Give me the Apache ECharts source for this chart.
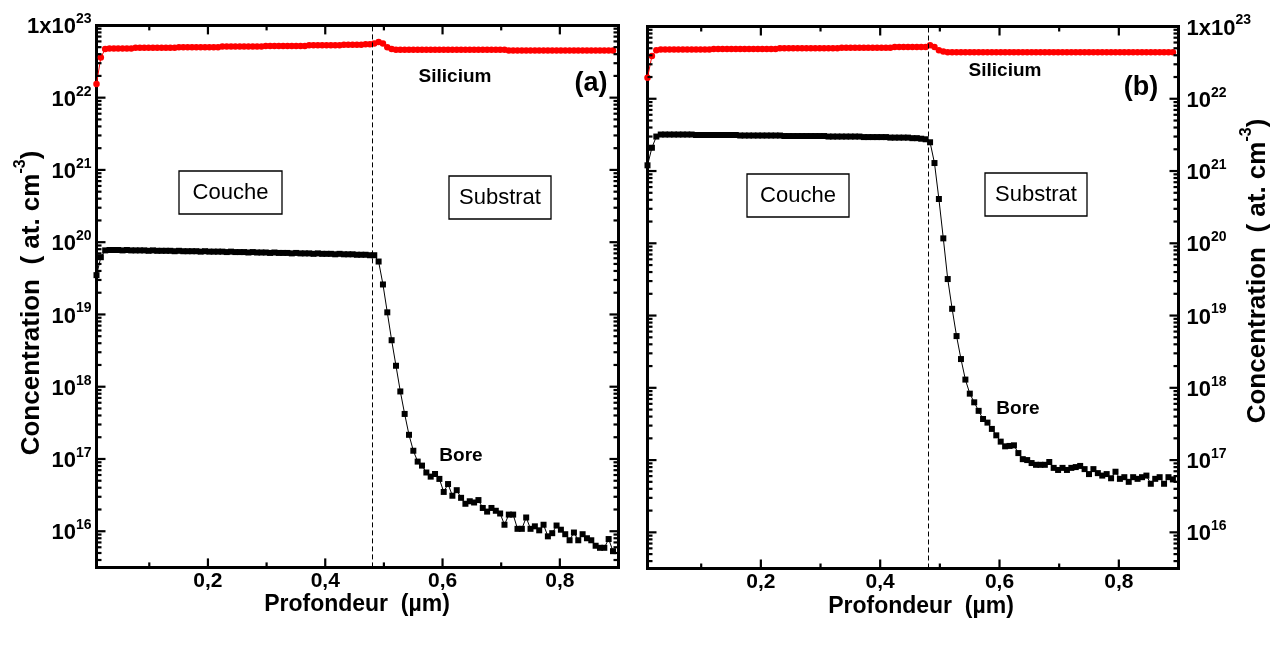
<!DOCTYPE html>
<html>
<head>
<meta charset="utf-8">
<script src="https://cdn.jsdelivr.net/npm/echarts@6/dist/echarts.min.js"></script>
<style>
  html, body { margin: 0; padding: 0; background: #fff; }
  #chart { width: 1274px; height: 651px; }
</style>
</head>
<body>
<div id="chart"></div>
<script>
// SIMS depth grid shared by both profiles (µm)
const depth = [
  0.0100, 0.0174, 0.0248, 0.0322, 0.0396, 0.0470, 0.0544, 0.0618, 0.0692, 0.0766,
  0.0840, 0.0914, 0.0988, 0.1062, 0.1136, 0.1210, 0.1284, 0.1358, 0.1432, 0.1506,
  0.1580, 0.1654, 0.1728, 0.1802, 0.1876, 0.1950, 0.2024, 0.2098, 0.2172, 0.2246,
  0.2320, 0.2394, 0.2468, 0.2542, 0.2616, 0.2690, 0.2764, 0.2838, 0.2912, 0.2986,
  0.3060, 0.3134, 0.3208, 0.3282, 0.3356, 0.3430, 0.3504, 0.3578, 0.3652, 0.3726,
  0.3800, 0.3874, 0.3948, 0.4022, 0.4096, 0.4170, 0.4244, 0.4318, 0.4392, 0.4466,
  0.4540, 0.4614, 0.4688, 0.4762, 0.4836, 0.4910, 0.4984, 0.5058, 0.5132, 0.5206,
  0.5280, 0.5354, 0.5428, 0.5502, 0.5576, 0.5650, 0.5724, 0.5798, 0.5872, 0.5946,
  0.6020, 0.6094, 0.6168, 0.6242, 0.6316, 0.6390, 0.6464, 0.6538, 0.6612, 0.6686,
  0.6760, 0.6834, 0.6908, 0.6982, 0.7056, 0.7130, 0.7204, 0.7278, 0.7352, 0.7426,
  0.7500, 0.7574, 0.7648, 0.7722, 0.7796, 0.7870, 0.7944, 0.8018, 0.8092, 0.8166,
  0.8240, 0.8314, 0.8388, 0.8462, 0.8536, 0.8610, 0.8684, 0.8758, 0.8832, 0.8906
];

// (a) silicium, in units of 1e22 at/cm3
const siliciumA = [
  1.55, 3.6, 4.7,
  4.8, 4.8, 4.8, 4.8, 4.8, 4.8,
  4.9, 4.9, 4.9, 4.9, 4.9, 4.9, 4.9, 4.9, 4.9, 4.9,
  5.0, 5.0, 5.0, 5.0, 5.0, 5.0, 5.0, 5.0, 5.0, 5.0,
  5.1, 5.1, 5.1, 5.1, 5.1, 5.1, 5.1, 5.1, 5.1, 5.1,
  5.2, 5.2, 5.2, 5.2, 5.2, 5.2, 5.2, 5.2, 5.2, 5.2,
  5.3, 5.3, 5.3, 5.3, 5.3, 5.3, 5.3, 5.3,
  5.4, 5.4, 5.4, 5.4, 5.4,
  5.5, 5.5,
  5.6, 5.9, 5.6, 5.0, 4.7,
  4.6, 4.6, 4.6, 4.6, 4.6, 4.6, 4.6, 4.6, 4.6, 4.6, 4.6, 4.6, 4.6,
  4.6, 4.6, 4.6, 4.6, 4.6, 4.6, 4.6, 4.6, 4.6, 4.6, 4.6, 4.6, 4.6,
  4.5, 4.5, 4.5, 4.5, 4.5, 4.5, 4.5, 4.5, 4.5, 4.5, 4.5, 4.5, 4.5,
  4.5, 4.5, 4.5, 4.5, 4.5, 4.5, 4.5, 4.5, 4.5, 4.5, 4.5, 4.5
];

// (a) bore, at/cm3
const boreA = [
  3.5e19, 6.2e19, 7.7e19,
  7.8e19, 7.8e19, 7.8e19, 7.7e19, 7.8e19, 7.7e19, 7.7e19, 7.7e19, 7.7e19, 7.6e19,
  7.7e19, 7.6e19, 7.6e19, 7.6e19, 7.6e19, 7.5e19, 7.6e19, 7.5e19, 7.5e19, 7.5e19,
  7.5e19, 7.4e19, 7.5e19, 7.4e19, 7.4e19, 7.4e19, 7.4e19, 7.3e19, 7.4e19, 7.3e19,
  7.3e19, 7.3e19, 7.2e19, 7.3e19, 7.2e19, 7.2e19, 7.2e19, 7.1e19, 7.2e19, 7.1e19,
  7.1e19, 7.1e19, 7.0e19, 7.1e19, 7.0e19, 7.0e19, 7.0e19, 6.9e19, 7.0e19, 6.9e19,
  6.9e19, 6.9e19, 6.8e19, 6.9e19, 6.8e19, 6.8e19, 6.8e19, 6.7e19, 6.7e19, 6.7e19,
  6.6e19, 6.6e19,
  5.4e19, 2.6e19, 1.07e19, 4.4e18, 1.95e18, 8.6e17, 4.2e17, 2.16e17, 1.3e17, 9.2e16,
  8.1e16, 6.5e16, 5.7e16, 6.2e16, 5.3e16,
  3.5e16, 4.5e16, 3.1e16, 3.7e16, 2.9e16, 2.4e16, 2.6e16, 2.5e16, 2.7e16, 2.1e16,
  1.87e16, 2.1e16, 1.92e16, 1.76e16, 1.23e16, 1.7e16, 1.7e16, 1.08e16, 1.08e16, 1.55e16,
  1.08e16, 1.17e16, 1.03e16, 1.23e16, 8.5e15, 9.4e15, 1.2e16, 1.05e16, 9.1e15, 7.5e15,
  9.6e15, 7.5e15, 9.1e15, 8.0e15, 7.5e15, 6.3e15, 5.9e15, 5.9e15, 7.8e15, 5.3e15
];

// (b) silicium, in units of 1e22 at/cm3
const siliciumB = [
  1.95, 3.9, 4.7,
  4.8, 4.8, 4.8, 4.8, 4.8, 4.8, 4.8, 4.8, 4.8, 4.8, 4.8, 4.8,
  4.9, 4.9, 4.9, 4.9, 4.9, 4.9, 4.9, 4.9, 4.9, 4.9, 4.9, 4.9, 4.9, 4.9, 4.9,
  5.0, 5.0, 5.0, 5.0, 5.0, 5.0, 5.0, 5.0, 5.0, 5.0, 5.0, 5.0, 5.0, 5.0,
  5.1, 5.1, 5.1, 5.1, 5.1, 5.1, 5.1, 5.1, 5.1, 5.1, 5.1, 5.1,
  5.2, 5.2, 5.2, 5.2, 5.2, 5.2, 5.2, 5.2,
  5.5, 5.2, 4.7, 4.5,
  4.4, 4.4, 4.4, 4.4, 4.4, 4.4, 4.4, 4.4, 4.4, 4.4, 4.4, 4.4, 4.4,
  4.4, 4.4, 4.4, 4.4, 4.4, 4.4, 4.4, 4.4, 4.4, 4.4, 4.4, 4.4, 4.4,
  4.4, 4.4, 4.4, 4.4, 4.4, 4.4, 4.4, 4.4, 4.4, 4.4, 4.4, 4.4, 4.4,
  4.4, 4.4, 4.4, 4.4, 4.4, 4.4, 4.4, 4.4, 4.4, 4.4, 4.4, 4.4, 4.4
];

// (b) bore, at/cm3
const boreB = [
  1.2e21, 2.1e21, 3.0e21,
  3.2e21, 3.2e21, 3.2e21, 3.2e21, 3.2e21, 3.2e21, 3.2e21, 3.2e21,
  3.15e21, 3.15e21, 3.15e21, 3.15e21, 3.15e21, 3.15e21, 3.15e21, 3.15e21, 3.15e21, 3.15e21,
  3.1e21, 3.1e21, 3.1e21, 3.1e21, 3.1e21, 3.1e21, 3.1e21, 3.1e21, 3.1e21, 3.1e21,
  3.05e21, 3.05e21, 3.05e21, 3.05e21, 3.05e21, 3.05e21, 3.05e21, 3.05e21, 3.05e21, 3.05e21,
  3.0e21, 3.0e21, 3.0e21, 3.0e21, 3.0e21, 3.0e21, 3.0e21, 3.0e21,
  2.95e21, 2.95e21, 2.95e21, 2.95e21, 2.95e21, 2.95e21,
  2.9e21, 2.9e21, 2.9e21, 2.9e21, 2.9e21,
  2.85e21, 2.85e21, 2.8e21, 2.75e21,
  2.5e21, 1.29e21, 4.1e20, 1.17e20, 3.2e19, 1.24e19, 5.2e18, 2.5e18,
  1.3e18, 8.3e17, 6.3e17, 4.8e17, 3.7e17, 3.3e17, 2.7e17, 2.2e17, 1.8e17, 1.55e17,
  1.57e17, 1.6e17, 1.25e17, 1.03e17, 1.0e17, 9.1e16, 8.6e16, 8.6e16, 8.6e16, 9.4e16,
  7.8e16, 7.3e16, 7.8e16, 7.3e16, 7.8e16, 8.0e16, 8.3e16, 7.5e16, 6.4e16, 7.5e16,
  6.6e16, 6.1e16, 6.4e16, 5.6e16, 6.9e16, 5.5e16, 5.8e16, 5.0e16, 5.8e16, 5.5e16,
  5.8e16, 6.1e16, 4.7e16, 5.5e16, 5.8e16, 4.7e16, 5.8e16, 5.4e16
];

// layer / substrate interface depth in each sample (µm)
const interfaceA = 0.485;
const interfaceB = 0.48;

// axis ranges and tick values
const X_MIN = 0.01, X_MAX = 0.9;
const Y_MIN = 3.16e15, Y_MAX = 1e23;
const xMajorTicks = [0.2, 0.4, 0.6, 0.8];
const xMinorTicks = [0.1, 0.3, 0.5, 0.7];
const yMajorTicks = [1e16, 1e17, 1e18, 1e19, 1e20, 1e21, 1e22];
const yMinorFactors = [2, 3, 4, 5, 6, 7, 8, 9];
const yDecades = [15, 16, 17, 18, 19, 20, 21, 22];

const FONT = '"Liberation Sans", Arial, Helvetica, sans-serif';

const yMinorTicks = [];
yDecades.forEach(function (d) {
  yMinorFactors.forEach(function (f) {
    const v = f * Math.pow(10, d);
    if (v > Y_MIN && v < Y_MAX) yMinorTicks.push(v);
  });
});

function pairs(values, unit) {
  return depth.map(function (d, i) { return [d, values[i] * unit]; });
}

function xLabel(v) {
  const t = Math.round(v * 10);
  if (Math.abs(v * 10 - t) > 1e-6 || t === 0 || t % 2 !== 0) return '';
  return (t / 10).toFixed(1).replace('.', ',');
}

function yLabel(v) {
  const e = Math.log10(v);
  const r = Math.round(e);
  if (Math.abs(e - r) > 1e-6) return '';
  if (r === 23) return '{b|1x10}{s|23}';
  return '{b|10}{s|' + r + '}';
}

const labelRich = {
  b: { fontFamily: FONT, fontWeight: 'bold', fontSize: 22, color: '#000', padding: [4, 0, 0, 0], verticalAlign: 'bottom' },
  s: { fontFamily: FONT, fontWeight: 'bold', fontSize: 14, color: '#000', verticalAlign: 'top' }
};

function tickItems() {
  const items = [];
  xMajorTicks.forEach(function (v) { items.push([v, Y_MIN, 0]); });
  xMinorTicks.forEach(function (v) { items.push([v, Y_MIN, 1]); });
  yMajorTicks.forEach(function (v) { items.push([X_MIN, v, 2]); });
  yMinorTicks.forEach(function (v) { items.push([X_MIN, v, 3]); });
  return items;
}

// inward ticks mirrored on all four sides of a panel
function renderTicks(params, api) {
  const kind = api.value(2);
  const area = params.coordSys;
  const left = area.x, right = area.x + area.width;
  const top = area.y, bottom = area.y + area.height;
  const len = (kind === 0 || kind === 2) ? 9 : 5;
  const st = { stroke: '#000', lineWidth: 2.2 };
  if (kind < 2) {
    const px = api.coord([api.value(0), Y_MIN])[0];
    return { type: 'group', children: [
      { type: 'line', shape: { x1: px, y1: bottom, x2: px, y2: bottom - len }, style: st },
      { type: 'line', shape: { x1: px, y1: top, x2: px, y2: top + len }, style: st }
    ]};
  }
  const py = api.coord([X_MIN, api.value(1)])[1];
  return { type: 'group', children: [
    { type: 'line', shape: { x1: left, y1: py, x2: left + len, y2: py }, style: st },
    { type: 'line', shape: { x1: right, y1: py, x2: right - len, y2: py }, style: st }
  ]};
}

function xAxisFor(i) {
  return {
    gridIndex: i, type: 'value', min: X_MIN, max: X_MAX,
    axisLine: { show: false }, axisTick: { show: false }, splitLine: { show: false },
    axisLabel: { margin: 3, formatter: xLabel, color: '#000', fontFamily: FONT, fontWeight: 'bold', fontSize: 21 }
  };
}

function yAxisFor(i, pos) {
  return {
    gridIndex: i, type: 'log', logBase: 10, min: Y_MIN, max: Y_MAX, position: pos,
    axisLine: { show: false }, axisTick: { show: false }, minorTick: { show: false },
    splitLine: { show: false }, minorSplitLine: { show: false },
    axisLabel: { margin: pos === 'left' ? 5 : 8, formatter: yLabel, rich: labelRich, color: '#000' }
  };
}

function panelSeries(i, si, bore, iface) {
  return [
    {
      name: 'Silicium', type: 'line', xAxisIndex: i, yAxisIndex: i,
      data: pairs(si, 1e22), symbol: 'circle', symbolSize: 6.5,
      itemStyle: { color: '#ff0000' }, lineStyle: { color: '#ff0000', width: 1 },
      clip: true, z: 3
    },
    {
      name: 'Bore', type: 'line', xAxisIndex: i, yAxisIndex: i,
      data: pairs(bore, 1), symbol: 'rect', symbolSize: 6,
      itemStyle: { color: '#000' }, lineStyle: { color: '#000', width: 1 },
      clip: true, z: 3,
      markLine: {
        silent: true, symbol: ['none', 'none'], label: { show: false },
        lineStyle: { color: '#000', width: 1, type: [5, 3] },
        data: [{ xAxis: iface }]
      }
    },
    {
      type: 'custom', xAxisIndex: i, yAxisIndex: i, data: tickItems(),
      renderItem: renderTicks, silent: true, z: 5
    }
  ];
}

function text(x, y, str, font) {
  return {
    type: 'text', x: x, y: y, silent: true,
    style: { text: str, font: font, fill: '#000', align: 'center', verticalAlign: 'middle' }
  };
}

function box(x, y, w, h) {
  return { type: 'rect', silent: true, shape: { x: x, y: y, width: w, height: h },
           style: { fill: '#fff', stroke: '#000', lineWidth: 1.3 } };
}

const titleRich = {
  t: { fontFamily: FONT, fontWeight: 'bold', fontSize: 26, fill: '#000', padding: [6, 0, 0, 0], verticalAlign: 'bottom' },
  s: { fontFamily: FONT, fontWeight: 'bold', fontSize: 16, fill: '#000', verticalAlign: 'top' }
};

function yTitle(x, y) {
  return {
    type: 'text', x: x, y: y, rotation: Math.PI / 2, silent: true,
    style: { text: '{t|Concentration  ( at. cm}{s|-3}{t|)}', rich: titleRich,
             align: 'center', verticalAlign: 'middle' }
  };
}

const BOLD19 = 'bold 19px ' + FONT;
const REG22 = '22px ' + FONT;
const TITLE = 'bold 23px ' + FONT;

const chart = echarts.init(document.getElementById('chart'), null, { renderer: 'canvas' });
chart.setOption({
  animation: false,
  backgroundColor: '#fff',
  grid: [
    { left: 96.5, top: 25.4, width: 522, height: 542, show: true, borderColor: '#000', borderWidth: 3, backgroundColor: 'transparent' },
    { left: 647.5, top: 26.5, width: 531, height: 542, show: true, borderColor: '#000', borderWidth: 3, backgroundColor: 'transparent' }
  ],
  xAxis: [xAxisFor(0), xAxisFor(1)],
  yAxis: [yAxisFor(0, 'left'), yAxisFor(1, 'right')],
  series: panelSeries(0, siliciumA, boreA, interfaceA).concat(panelSeries(1, siliciumB, boreB, interfaceB)),
  graphic: [
    // panel (a)
    box(179, 171, 103, 43), text(230.5, 192.5, 'Couche', REG22),
    box(449, 176, 102, 43), text(500, 197.5, 'Substrat', REG22),
    text(455, 77, 'Silicium', BOLD19),
    text(591, 84, '(a)', 'bold 27px ' + FONT),
    text(461, 456, 'Bore', BOLD19),
    yTitle(29, 303),
    text(357, 605, 'Profondeur  (µm)', TITLE),
    // panel (b)
    box(747, 174, 102, 43), text(798, 195.5, 'Couche', REG22),
    box(985, 173, 102, 43), text(1036, 194.5, 'Substrat', REG22),
    text(1005, 71, 'Silicium', BOLD19),
    text(1141, 88, '(b)', 'bold 27px ' + FONT),
    text(1018, 409, 'Bore', BOLD19),
    yTitle(1255, 271),
    text(921, 607, 'Profondeur  (µm)', TITLE)
  ]
});
</script>
</body>
</html>
